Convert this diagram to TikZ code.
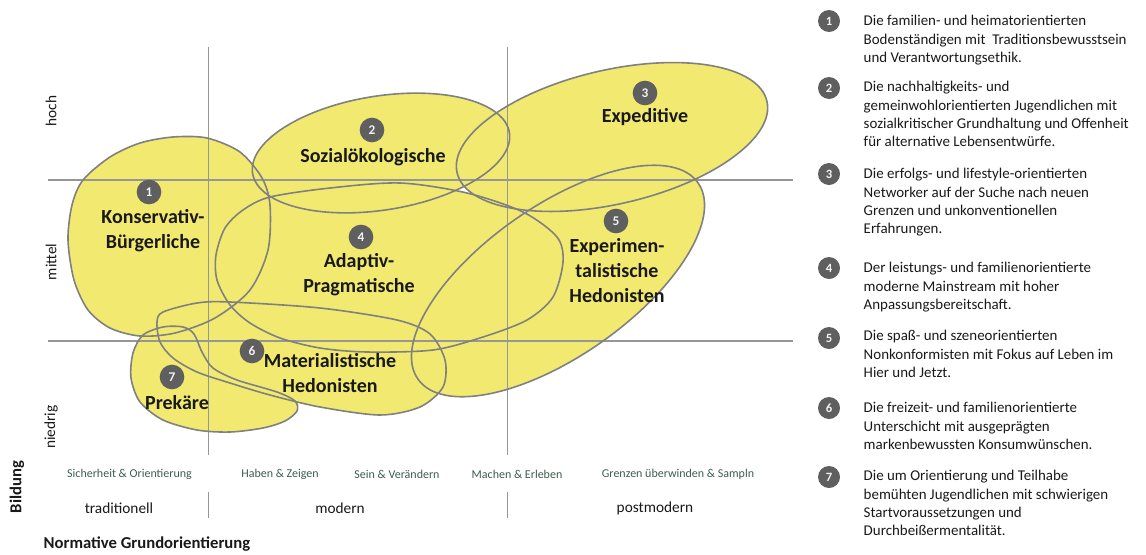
\documentclass[tikz,border=0pt]{standalone}
\usepackage{fontspec}
\setmainfont{Carlito}

\definecolor{milieufill}{RGB}{242,234,112}
\definecolor{milieuline}{RGB}{128,128,128}
\definecolor{gridgray}{RGB}{150,150,150}
\definecolor{numgray}{RGB}{95,95,95}
\definecolor{valuegreen}{RGB}{62,92,78}
\definecolor{inktext}{RGB}{25,25,25}

\tikzset{every picture/.style={line width=1.1pt}}
\tikzset{
  num/.style={circle, fill=numgray, text=white!90!gray, inner sep=0pt, minimum size=18.5pt, font=\bfseries\fontsize{10}{10}\selectfont},
  legnum/.style={num, minimum size=16.5pt, font=\bfseries\fontsize{9.5}{9.5}\selectfont},
  milieu/.style={align=center, inner sep=0pt, text=inktext, font=\bfseries\fontsize{15}{18.75}\selectfont},
  axislabel/.style={rotate=90, inner sep=0pt, text=inktext, font=\fontsize{11.5}{13}\selectfont},
  valuelabel/.style={inner sep=0pt, text=valuegreen, font=\fontsize{9}{10}\selectfont},
  epochlabel/.style={inner sep=0pt, text=inktext, font=\fontsize{11.5}{13}\selectfont},
  legtext/.style={anchor=north west, align=left, inner sep=0pt, text=inktext, font=\fontsize{11.2}{13.65}\selectfont},
}

% the seven milieu areas, once filled and once outlined
\newcommand{\milieuareas}[1]{%
  \path[#1] plot[smooth cycle] coordinates {(83,180) (110,157) (140,143) (173,137) (207,138) (240,152) (262,178) (270,205) (268,250) (250,290) (215,318) (175,333) (140,336) (110,328) (88,310) (74,280) (68,240) (72,205)};
  \path[#1, rotate around={-9:(381,153)}] (381,153) ellipse [x radius=130, y radius=57];
  \path[#1, rotate around={-13:(612,137)}] (612,137) ellipse [x radius=159, y radius=67];
  \path[#1] plot[smooth cycle] coordinates {(243,210) (270,197) (330,188) (400,183) (467,193) (523,212) (557,237) (563,262) (553,297) (527,320) (483,337) (433,350) (367,352) (320,348) (280,338) (250,323) (230,305) (217,280) (216,255) (225,228)};
  \path[#1, rotate around={-35:(558,281)}] (558,281) ellipse [x radius=171, y radius=75];
  \path[#1] plot[smooth cycle] coordinates {(157,322) (163,312) (197,303) (230,302) (320,308) (397,320) (430,334) (445,360) (443,387) (420,407) (380,415) (320,407) (270,395) (230,383) (197,372) (173,358) (160,342)};
  \path[#1] plot[smooth cycle] coordinates {(143,335) (163,327) (183,327) (194,334) (202,352) (213,368) (237,380) (277,392) (295,401) (297,411) (285,421) (263,428) (230,432) (197,430) (163,420) (140,402) (131,378) (133,353)};
}

\begin{document}
\begin{tikzpicture}[x=0.75pt,y=0.75pt,yscale=-1]
    \useasboundingbox (0,0) rectangle (1146,554);

    \milieuareas{fill=milieufill}

    % grid
    \draw [gridgray]  (208.5,47) -- (208.5,455) ;
    \draw [gridgray]  (507.5,47) -- (507.5,455) ;
    \draw [gridgray]  (48,180) -- (793,180) ;
    \draw [gridgray]  (48,341) -- (793,341) ;
    \draw [gridgray]  (208.5,492) -- (208.5,518) ;
    \draw [gridgray]  (507.5,492) -- (507.5,518) ;

    \milieuareas{draw=milieuline, line width=1.2pt}

    % milieus
    \node [num] (n1) at (149,192) {1};
    \node [milieu] (m1) at (153,231) {Konservativ-\\Bürgerliche};
    \node [num] (n2) at (372,130) {2};
    \node [milieu] (m2) at (373,157) {Sozialökologische};
    \node [num] (n3) at (645,93) {3};
    \node [milieu] (m3) at (645,117) {Expeditive};
    \node [num] (n4) at (361,237) {4};
    \node [milieu] (m4) at (359,275) {Adaptiv-\\Pragmatische};
    \node [num] (n5) at (616,221) {5};
    \node [milieu] (m5) at (617,271) {Experimen-\\talistische\\Hedonisten};
    \node [num] (n6) at (252,351) {6};
    \node [milieu] (m6) at (330,373) {Materialistische\\Hedonisten};
    \node [num] (n7) at (172,377) {7};
    \node [milieu] (m7) at (177,403) {Prekäre};

    % axes
    \node [axislabel] (hoch) at (51,111) {hoch};
    \node [axislabel] (mittel) at (51,262) {mittel};
    \node [axislabel] (niedrig) at (51,427) {niedrig};
    \node [axislabel, font=\bfseries\fontsize{12.5}{14}\selectfont] (bildung) at (17,487) {Bildung};

    \node [valuelabel] (v1) at (129.5,474) {Sicherheit \& Orientierung};
    \node [valuelabel] (v2) at (280,474) {Haben \& Zeigen};
    \node [valuelabel] (v3) at (397,474) {Sein \& Verändern};
    \node [valuelabel] (v4) at (517,474) {Machen \& Erleben};
    \node [valuelabel] (v5) at (678,474) {Grenzen überwinden \& Sampln};

    \node [epochlabel] (e1) at (119,508) {traditionell};
    \node [epochlabel] (e2) at (340,508) {modern};
    \node [epochlabel] (e3) at (655,508) {postmodern};

    \node [anchor=west, inner sep=0pt, text=inktext, font=\bfseries\fontsize{12.5}{14}\selectfont] (grund) at (43,544) {Normative Grundorientierung};

    % legend
    \node [legnum] (l1) at (829,21) {1};
    \node [legtext] (t1) at (863,14.7) {Die familien- und heimatorientierten\\Bodenständigen mit\ \ Traditionsbewusstsein\\und Verantwortungsethik.};
    \node [legnum] (l2) at (829,88) {2};
    \node [legtext] (t2) at (863,80.7) {Die nachhaltigkeits- und\\gemeinwohlorientierten Jugendlichen mit\\sozialkritischer Grundhaltung und Offenheit\\für alternative Lebensentwürfe.};
    \node [legnum] (l3) at (829,174) {3};
    \node [legtext] (t3) at (863,167.7) {Die erfolgs- und lifestyle-orientierten\\Networker auf der Suche nach neuen\\Grenzen und unkonventionellen\\Erfahrungen.};
    \node [legnum] (l4) at (829,268) {4};
    \node [legtext] (t4) at (863,261.7) {Der leistungs- und familienorientierte\\moderne Mainstream mit hoher\\Anpassungsbereitschaft.};
    \node [legnum] (l5) at (829,338) {5};
    \node [legtext] (t5) at (863,329.7) {Die spaß- und szeneorientierten\\Nonkonformisten mit Fokus auf Leben im\\Hier und Jetzt.};
    \node [legnum] (l6) at (829,408) {6};
    \node [legtext] (t6) at (863,401.7) {Die freizeit- und familienorientierte\\Unterschicht mit ausgeprägten\\markenbewussten Konsumwünschen.};
    \node [legnum] (l7) at (829,477) {7};
    \node [legtext] (t7) at (863,469.7) {Die um Orientierung und Teilhabe\\bemühten Jugendlichen mit schwierigen\\Startvoraussetzungen und\\Durchbeißermentalität.};

\end{tikzpicture}
\end{document}
